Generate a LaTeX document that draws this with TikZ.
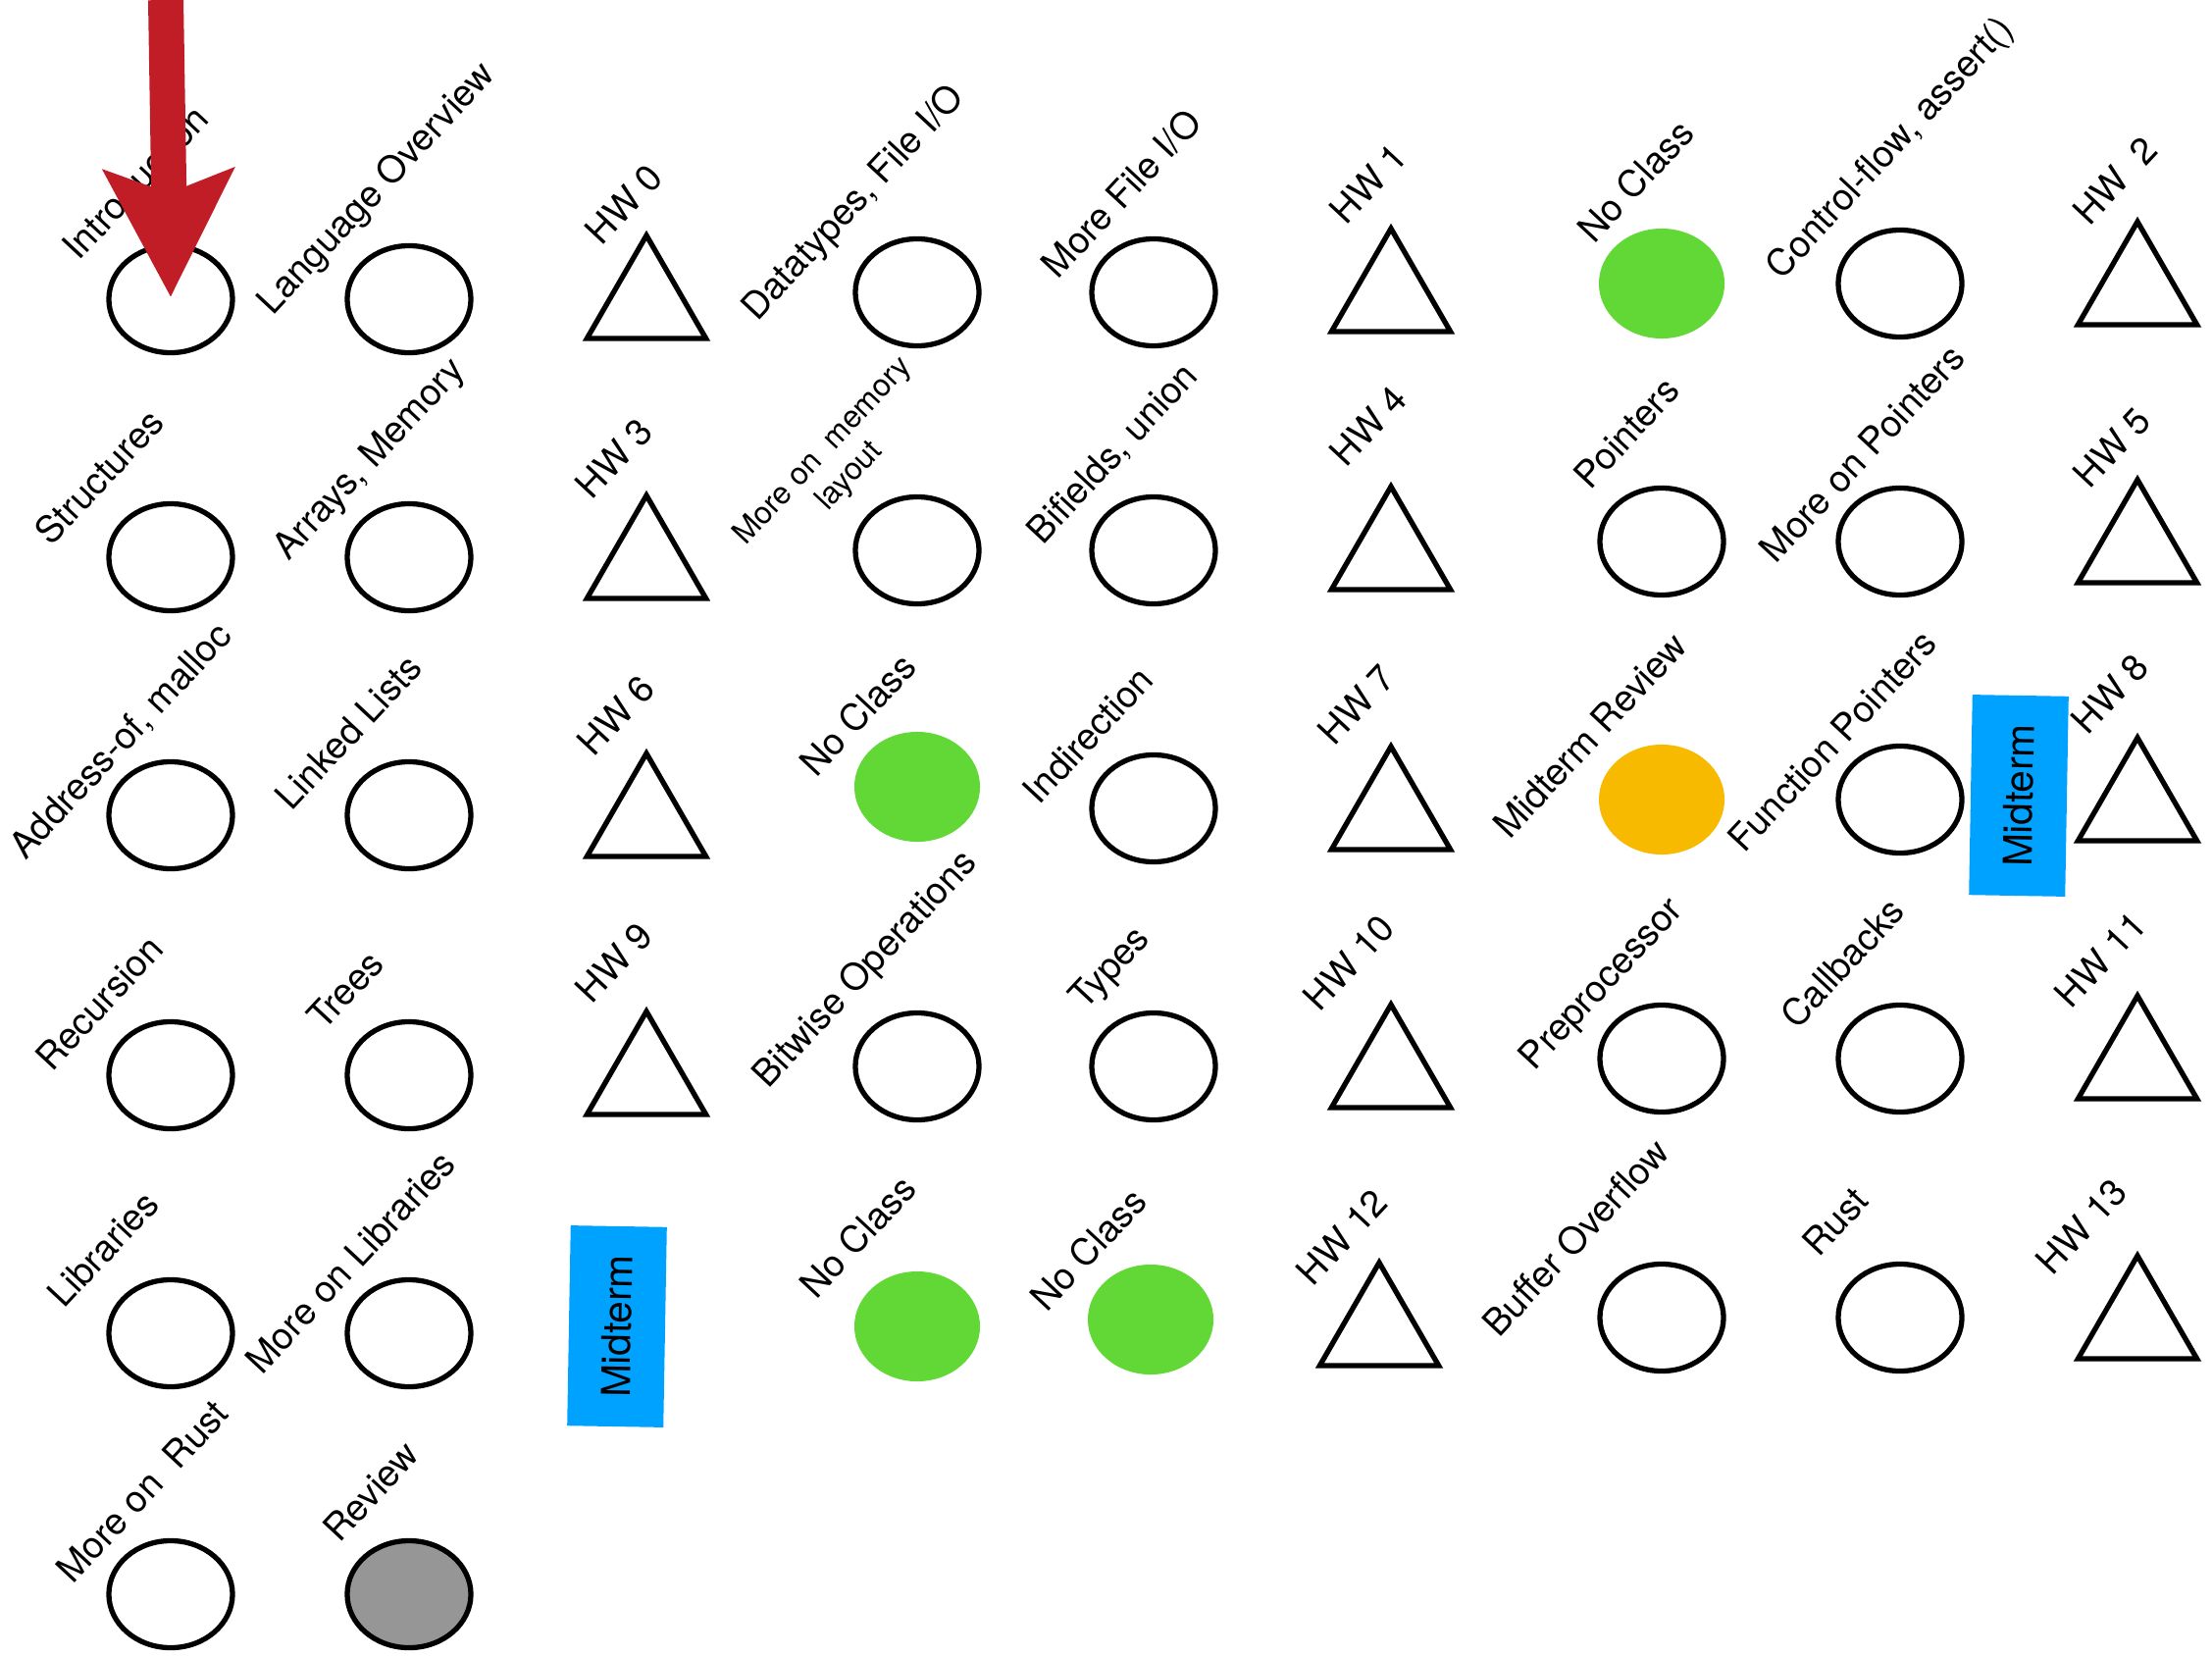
\documentclass[tikz,border=0pt]{standalone}
\usepackage{fontspec}
\setmainfont{TeX Gyre Heros}
\usetikzlibrary{shapes.geometric,arrows.meta}
\definecolor{cgreen}{RGB}{97,216,54}
\definecolor{corange}{RGB}{248,186,0}
\definecolor{cblue}{RGB}{0,162,255}
\definecolor{cgray}{RGB}{150,150,150}
\definecolor{cred}{RGB}{193,29,38}
\begin{document}
\begin{tikzpicture}[x=0.01cm,y=-0.01cm,
  lec/.style={ellipse,draw,line width=1.5pt,minimum width=1.26cm,minimum height=1.09cm,inner sep=0pt},
  lecfill/.style={ellipse,fill=#1,minimum width=1.28cm,minimum height=1.12cm,inner sep=0pt},
  hw/.style={regular polygon,regular polygon sides=3,draw,line width=1.5pt,minimum size=1.40cm,inner sep=0pt},
  lbl/.style={rotate=47,inner sep=0pt,font=\fontsize{10.7pt}{12.5pt}\selectfont,align=center},
  midbox/.style={fill=cblue,rotate=89,minimum width=2.04cm,minimum height=0.98cm,inner sep=0pt,font=\fontsize{11.5pt}{13pt}\selectfont}]
\useasboundingbox (0,0) rectangle (2255,1688);

% ---------- Row 1
\node[lec] (intro) at (174,305) {};
\node[lbl] (l-intro) at (138,186) {Introduction};
\node[lec] (lang) at (417,305) {};
\node[lbl] (l-lang) at (385,193) {Language Overview};
\node[hw] (hw0) at (659,310) {};
\node[lbl] (l-hw0) at (636,208) {HW 0};
\node[lec] (dtypes) at (935,298) {};
\node[lbl] (l-dtypes) at (871,208) {Datatypes, File I/O};
\node[lec] (morefile) at (1176,298) {};
\node[lbl] (l-morefile) at (1143,197) {More File I/O};
\node[hw] (hw1) at (1418,303) {};
\node[lbl] (l-hw1) at (1395,187) {HW 1};
\node[lecfill=cgreen] (noclass1) at (1694,289) {};
\node[lbl] (l-noclass1) at (1667,184) {No Class};
\node[lec] (ctrl) at (1937,289) {};
\node[lbl] (l-ctrl) at (1928,152) {Control-flow, assert()};
\node[hw] (hw2) at (2179,296) {};
\node[lbl] (l-hw2) at (2156,184) {HW\ \ 2};

% ---------- Row 2
\node[lec] (struct) at (174,568) {};
\node[lbl] (l-struct) at (101,486) {Structures};
\node[lec] (arrays) at (417,568) {};
\node[lbl] (l-arrays) at (378,469) {Arrays, Memory};
\node[hw] (hw3) at (659,575) {};
\node[lbl] (l-hw3) at (626,467) {HW 3};
\node[lec] (memlayout) at (935,561) {};
\node[lbl,font=\fontsize{9pt}{10.5pt}\selectfont] (l-memlayout) at (853,473) {More on\ \ memory\\layout};
\node[lec] (bifields) at (1176,561) {};
\node[lbl] (l-bifields) at (1135,463) {Bifields, union};
\node[hw] (hw4) at (1418,566) {};
\node[lbl] (l-hw4) at (1395,434) {HW 4};
\node[lec] (pointers) at (1694,552) {};
\node[lbl] (l-pointers) at (1658,441) {Pointers};
\node[lec] (morepointers) at (1937,552) {};
\node[lbl] (l-morepointers) at (1898,462) {More on Pointers};
\node[hw] (hw5) at (2179,559) {};
\node[lbl] (l-hw5) at (2153,456) {HW 5};

% ---------- Row 3
\node[lec] (address) at (174,831) {};
\node[lbl] (l-address) at (124,756) {Address-of, malloc};
\node[lec] (linked) at (417,831) {};
\node[lbl] (l-linked) at (355,746) {Linked Lists};
\node[hw] (hw6) at (659,838) {};
\node[lbl] (l-hw6) at (628,729) {HW 6};
\node[lecfill=cgreen] (noclass2) at (935,802) {};
\node[lbl] (l-noclass2) at (874,728) {No Class};
\node[lec] (indirection) at (1176,824) {};
\node[lbl] (l-indirection) at (1109,749) {Indirection};
\node[hw] (hw7) at (1418,831) {};
\node[lbl] (l-hw7) at (1383,718) {HW 7};
\node[lecfill=corange] (midreview) at (1694,815) {};
\node[lbl] (l-midreview) at (1621,749) {Midterm Review};
\node[lec] (funcptr) at (1937,815) {};
\node[lbl] (l-funcptr) at (1868,755) {Function Pointers};
\node[midbox] (midterm1) at (2058,811) {Midterm};
\node[hw] (hw8) at (2179,822) {};
\node[lbl] (l-hw8) at (2151,707) {HW 8};

% ---------- Row 4
\node[lec] (recursion) at (174,1096) {};
\node[lbl] (l-recursion) at (101,1022) {Recursion};
\node[lec] (trees) at (417,1096) {};
\node[lbl] (l-trees) at (352,1009) {Trees};
\node[hw] (hw9) at (659,1101) {};
\node[lbl] (l-hw9) at (626,981) {HW 9};
\node[lec] (bitwise) at (935,1087) {};
\node[lbl] (l-bitwise) at (883,989) {Bitwise Operations};
\node[lec] (types) at (1176,1087) {};
\node[lbl] (l-types) at (1133,988) {Types};
\node[hw] (hw10) at (1418,1094) {};
\node[lbl] (l-hw10) at (1375,981) {HW 10};
\node[lec] (preproc) at (1694,1079) {};
\node[lbl] (l-preproc) at (1634,1004) {Preprocessor};
\node[lec] (callbacks) at (1937,1079) {};
\node[lbl] (l-callbacks) at (1878,981) {Callbacks};
\node[hw] (hw11) at (2179,1085) {};
\node[lbl] (l-hw11) at (2141,978) {HW 11};

% ---------- Row 5
\node[lec] (libraries) at (174,1359) {};
\node[lbl] (l-libraries) at (105,1273) {Libraries};
\node[lec] (morelib) at (417,1359) {};
\node[lbl] (l-morelib) at (357,1286) {More on Libraries};
\node[midbox] (midterm2) at (629,1352) {Midterm};
\node[lecfill=cgreen] (noclass3) at (935,1352) {};
\node[lbl] (l-noclass3) at (874,1260) {No Class};
\node[lecfill=cgreen] (noclass4) at (1173,1345) {};
\node[lbl] (l-noclass4) at (1109,1273) {No Class};
\node[hw] (hw12) at (1406,1357) {};
\node[lbl] (l-hw12) at (1368,1261) {HW 12};
\node[lec] (buffer) at (1694,1343) {};
\node[lbl] (l-buffer) at (1606,1261) {Buffer Overflow};
\node[lec] (rust) at (1937,1343) {};
\node[lbl] (l-rust) at (1871,1245) {Rust};
\node[hw] (hw13) at (2179,1350) {};
\node[lbl] (l-hw13) at (2122,1250) {HW 13};

% ---------- Row 6
\node[lec] (morerust) at (174,1625) {};
\node[lbl] (l-morerust) at (145,1520) {More on\ \ Rust};
\node[lec,fill=cgray] (review) at (417,1625) {};
\node[lbl] (l-review) at (378,1520) {Review};

% ---------- red arrow
\coordinate (arrowtop) at (169,0);
\draw[cred,line width=0.36cm,-{Stealth[length=1.29cm,width=1.30cm,inset=0.23cm]},shorten >=0.02cm] (arrowtop) -- (intro.center);
\end{tikzpicture}
\end{document}
